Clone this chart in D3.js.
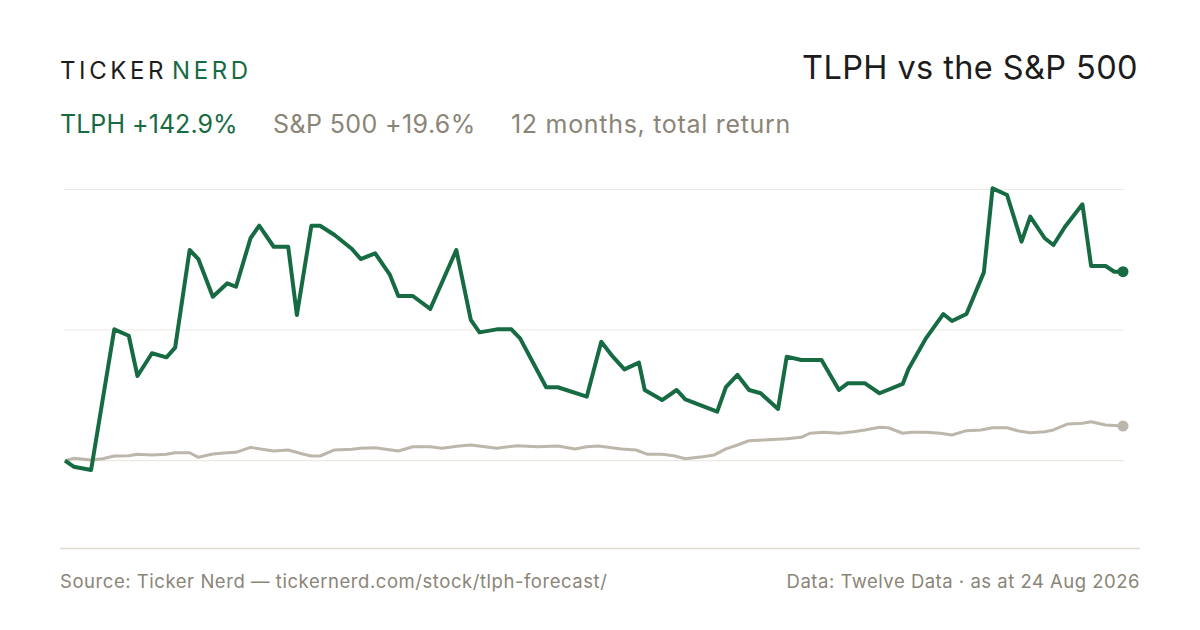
<!DOCTYPE html>
<meta charset="utf-8">
<style>
  body { margin: 0; background: #fff; }
  text { font-family: Inter, "Liberation Sans", sans-serif; }
</style>
<body>
<script src="https://cdn.jsdelivr.net/npm/d3@7"></script>
<script>

// days since start of window (24 Aug 2025 -> 24 Aug 2026) and % return
var tlphDays = [0, 3, 9, 17, 22, 25, 30, 35, 38, 43, 46, 51, 56, 59, 64, 67, 72, 77, 80, 85,
  88, 93, 99, 102, 107, 112, 115, 120, 126, 135, 140, 143, 149, 154, 157, 166, 170, 180, 185, 189,
  193, 198, 200, 206, 211, 214, 225, 228, 232, 236, 240, 246, 249, 254, 261, 267, 270, 276, 281, 289,
  291, 297, 303, 306, 311, 317, 320, 325, 330, 333, 338, 341, 345, 351, 354, 359, 362, 365];
var tlphValues = [0, -4.6, -7.1, 100.5, 95.6, 64.8, 82.2, 79.1, 86.5, 161.2, 154.3, 125.5, 135.7, 133.1, 170.2, 179.8, 163.7, 163.7, 111.5, 179.8,
  179.8, 172.7, 162.0, 154.3, 158.7, 142.6, 126.0, 126.0, 116.1, 161.2, 107.7, 98.2, 100.5, 100.5, 93.6, 56.2, 56.2, 49.0, 91.0, 79.6,
  69.9, 75.0, 54.1, 46.4, 54.1, 47.0, 37.5, 56.2, 65.6, 54.1, 51.6, 39.6, 79.6, 77.0, 77.0, 54.1, 59.2, 59.2, 51.6, 58.7,
  70.2, 93.6, 112.2, 106.9, 112.2, 144.1, 208.4, 203.3, 167.6, 186.7, 170.2, 165.0, 179.0, 196.2, 149.0, 149.0, 144.6, 144.6];

var spxDays = [0, 3, 9, 13, 17, 22, 25, 30, 35, 38, 43, 46, 51, 56, 59, 64, 72, 77, 82, 85,
  88, 93, 99, 102, 107, 115, 120, 126, 130, 136, 140, 149, 156, 163, 170, 176, 180, 184, 192, 197,
  201, 206, 210, 214, 220, 224, 228, 232, 236, 241, 249, 254, 257, 262, 267, 272, 276, 281, 284, 289,
  292, 297, 302, 306, 311, 316, 320, 325, 329, 333, 338, 341, 346, 351, 354, 359, 365];
var spxValues = [0, 1.8, 0.5, 1.5, 3.6, 3.8, 4.9, 4.4, 4.9, 6.1, 6.1, 2.6, 5.1, 6.1, 6.4, 10.2, 7.4, 8.2, 5.1, 3.6,
  3.6, 8.2, 8.7, 9.5, 9.9, 7.4, 10.7, 10.7, 9.5, 11.2, 12.0, 9.5, 11.5, 10.7, 11.2, 9.0, 10.7, 11.2, 9.0, 8.2,
  4.9, 4.9, 3.8, 1.5, 3.1, 4.4, 9.0, 12.0, 15.3, 15.8, 16.8, 17.9, 21.0, 21.7, 21.0, 22.2, 23.5, 25.6, 25.2, 21.0,
  21.7, 21.7, 21.0, 19.7, 23.0, 23.5, 25.2, 25.2, 22.7, 21.4, 22.2, 23.5, 28.1, 28.6, 29.8, 27.3, 26.5];

var gridValues = [0, 100, 207.5];

var green = "#176b43", stone = "#bdb6ab", muted = "#8a8577";

var svg = d3.select("body").append("svg")
  .attr("width", 1200)
  .attr("height", 630);

svg.append("rect").attr("width", 1200).attr("height", 630).attr("fill", "#fff");

// scales
var x = d3.scaleLinear().domain([0, 365]).range([65, 1123]);
var y = d3.scaleLinear().domain([0, 100]).range([460.7, 330]);

// gridlines
svg.selectAll(".grid")
  .data(gridValues)
  .enter().append("line")
  .attr("x1", 64).attr("x2", 1124)
  .attr("y1", d => y(d)).attr("y2", d => y(d))
  .attr("stroke", "#ece9e3")
  .attr("stroke-width", 1.2);

// bottom rule
svg.append("line")
  .attr("x1", 60).attr("x2", 1140)
  .attr("y1", 548.5).attr("y2", 548.5)
  .attr("stroke", "#dfdbd1")
  .attr("stroke-width", 1.5);

var line = d3.line()
  .x(d => x(d[0]))
  .y(d => y(d[1]));

var spx = d3.zip(spxDays, spxValues);
var tlph = d3.zip(tlphDays, tlphValues);

svg.append("path")
  .datum(spx)
  .attr("d", line)
  .attr("fill", "none")
  .attr("stroke", stone)
  .attr("stroke-width", 3)
  .attr("stroke-linejoin", "round");

svg.append("circle")
  .attr("cx", x(spx[spx.length - 1][0]))
  .attr("cy", y(spx[spx.length - 1][1]))
  .attr("r", 5.5)
  .attr("fill", stone);

svg.append("path")
  .datum(tlph)
  .attr("d", line)
  .attr("fill", "none")
  .attr("stroke", green)
  .attr("stroke-width", 4)
  .attr("stroke-linejoin", "round");

svg.append("circle")
  .attr("cx", x(tlph[tlph.length - 1][0]))
  .attr("cy", y(tlph[tlph.length - 1][1]))
  .attr("r", 5.5)
  .attr("fill", green);

// header
var logo = svg.append("text")
  .attr("x", 60).attr("y", 78.5)
  .attr("font-size", 24)
  .attr("letter-spacing", 3.6);
logo.append("tspan").attr("fill", "#1c1c1c").text("TICKER");
logo.append("tspan").attr("fill", green).attr("x", 172).text("NERD");

svg.append("text")
  .attr("x", 1138).attr("y", 79)
  .attr("text-anchor", "end")
  .attr("font-size", 32.5)
  .attr("letter-spacing", 0.4)
  .attr("fill", "#1c1c1c")
  .text("TLPH vs the S&P 500");

var sub = svg.append("text")
  .attr("y", 133)
  .attr("font-size", 25);
sub.append("tspan").attr("x", 60).attr("fill", green).attr("letter-spacing", 0.05).text("TLPH +142.9%");
sub.append("tspan").attr("x", 273).attr("fill", muted).attr("letter-spacing", 0.4).text("S&P 500 +19.6%");
sub.append("tspan").attr("x", 511).attr("fill", muted).attr("letter-spacing", 0.7).text("12 months, total return");

// footer
svg.append("text")
  .attr("x", 60).attr("y", 588)
  .attr("font-size", 18.5)
  .attr("letter-spacing", 0.55)
  .attr("fill", muted)
  .text("Source: Ticker Nerd \u2014 tickernerd.com/stock/tlph-forecast/");

svg.append("text")
  .attr("x", 1140).attr("y", 588)
  .attr("text-anchor", "end")
  .attr("font-size", 18.5)
  .attr("letter-spacing", 0.5)
  .attr("fill", muted)
  .text("Data: Twelve Data \u00b7 as at 24 Aug 2026");

</script>
</body>
